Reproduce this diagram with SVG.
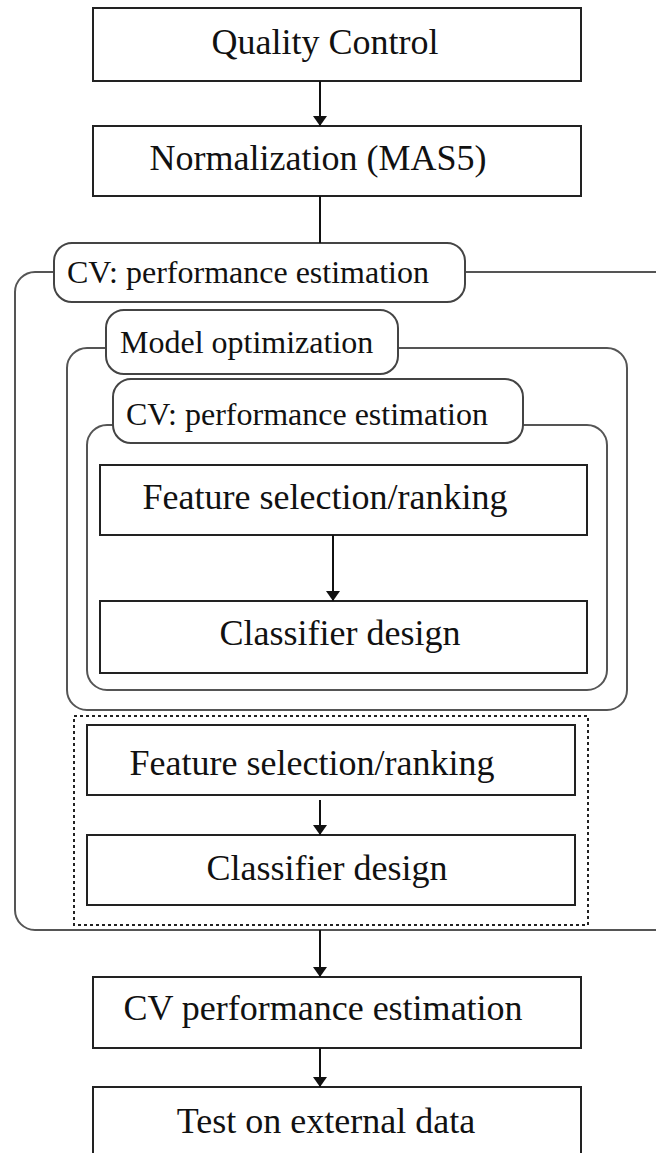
<svg xmlns="http://www.w3.org/2000/svg" width="656" height="1153" viewBox="0 0 656 1153">
  <style>
    .box { fill: #fff; stroke: #222; stroke-width: 2; }
    .frame { fill: none; stroke: #555; stroke-width: 2; }
    .tag { fill: #fff; stroke: #444; stroke-width: 2; }
    .dotted { fill: none; stroke: #222; stroke-width: 2; stroke-dasharray: 3 3; }
    .big { font-family: "Liberation Serif", "Times New Roman", serif; font-size: 36px; fill: #111; text-anchor: middle; }
    .small { font-family: "Liberation Serif", "Times New Roman", serif; font-size: 32px; fill: #111; }
    .edge { stroke: #111; stroke-width: 2; fill: none; }
  </style>
  <defs>
    <marker id="arrow" viewBox="0 0 10 14" refX="10" refY="7" markerWidth="10" markerHeight="14" markerUnits="userSpaceOnUse" orient="auto">
      <path d="M0,0 L10,7 L0,14 Z" fill="#111"/>
    </marker>
  </defs>

  <rect width="656" height="1153" fill="#fff"/>

  <!-- nested loop frames -->
  <g id="outer-cv">
    <rect class="frame" x="15" y="272" width="700" height="658" rx="20"/>
    <rect class="tag" x="54" y="243" width="411" height="59" rx="18"/>
    <text class="small" x="67" y="283">CV: performance estimation</text>
  </g>

  <g id="model-optimization">
    <rect class="frame" x="67" y="348" width="560" height="362" rx="20"/>
    <rect class="tag" x="106" y="310" width="292" height="64" rx="18"/>
    <text class="small" x="120" y="353">Model optimization</text>
  </g>

  <g id="inner-cv">
    <rect class="frame" x="87" y="425" width="520" height="265" rx="20"/>
    <rect class="tag" x="113" y="379" width="410" height="64" rx="18"/>
    <text class="small" x="126" y="425">CV: performance estimation</text>
  </g>

  <g id="final-model">
    <rect class="dotted" x="74" y="716" width="514" height="209"/>
  </g>

  <!-- process steps -->
  <g id="quality-control">
    <rect class="box" x="93" y="8" width="488" height="73"/>
    <text class="big" x="325" y="54">Quality Control</text>
  </g>

  <g id="normalization">
    <rect class="box" x="93" y="126" width="488" height="70"/>
    <text class="big" x="318" y="170">Normalization (MAS5)</text>
  </g>

  <g id="feature-selection-inner">
    <rect class="box" x="100" y="465" width="487" height="70"/>
    <text class="big" x="325" y="509">Feature selection/ranking</text>
  </g>

  <g id="classifier-inner">
    <rect class="box" x="100" y="601" width="487" height="72"/>
    <text class="big" x="340" y="645">Classifier design</text>
  </g>

  <g id="feature-selection-final">
    <rect class="box" x="87" y="725" width="488" height="70"/>
    <text class="big" x="312" y="775">Feature selection/ranking</text>
  </g>

  <g id="classifier-final">
    <rect class="box" x="87" y="835" width="488" height="70"/>
    <text class="big" x="327" y="880">Classifier design</text>
  </g>

  <g id="cv-performance">
    <rect class="box" x="93" y="977" width="488" height="71"/>
    <text class="big" x="323" y="1020">CV performance estimation</text>
  </g>

  <g id="external-test">
    <rect class="box" x="93" y="1087" width="488" height="100"/>
    <text class="big" x="326" y="1133">Test on external data</text>
  </g>

  <!-- connectors -->
  <g id="connectors">
    <line class="edge" x1="320" y1="81" x2="320" y2="126" marker-end="url(#arrow)"/>
    <line class="edge" x1="320" y1="196" x2="320" y2="243"/>
    <line class="edge" x1="333" y1="535" x2="333" y2="601" marker-end="url(#arrow)"/>
    <line class="edge" x1="320" y1="800" x2="320" y2="835" marker-end="url(#arrow)"/>
    <line class="edge" x1="320" y1="930" x2="320" y2="977" marker-end="url(#arrow)"/>
    <line class="edge" x1="320" y1="1048" x2="320" y2="1087" marker-end="url(#arrow)"/>
  </g>
</svg>
